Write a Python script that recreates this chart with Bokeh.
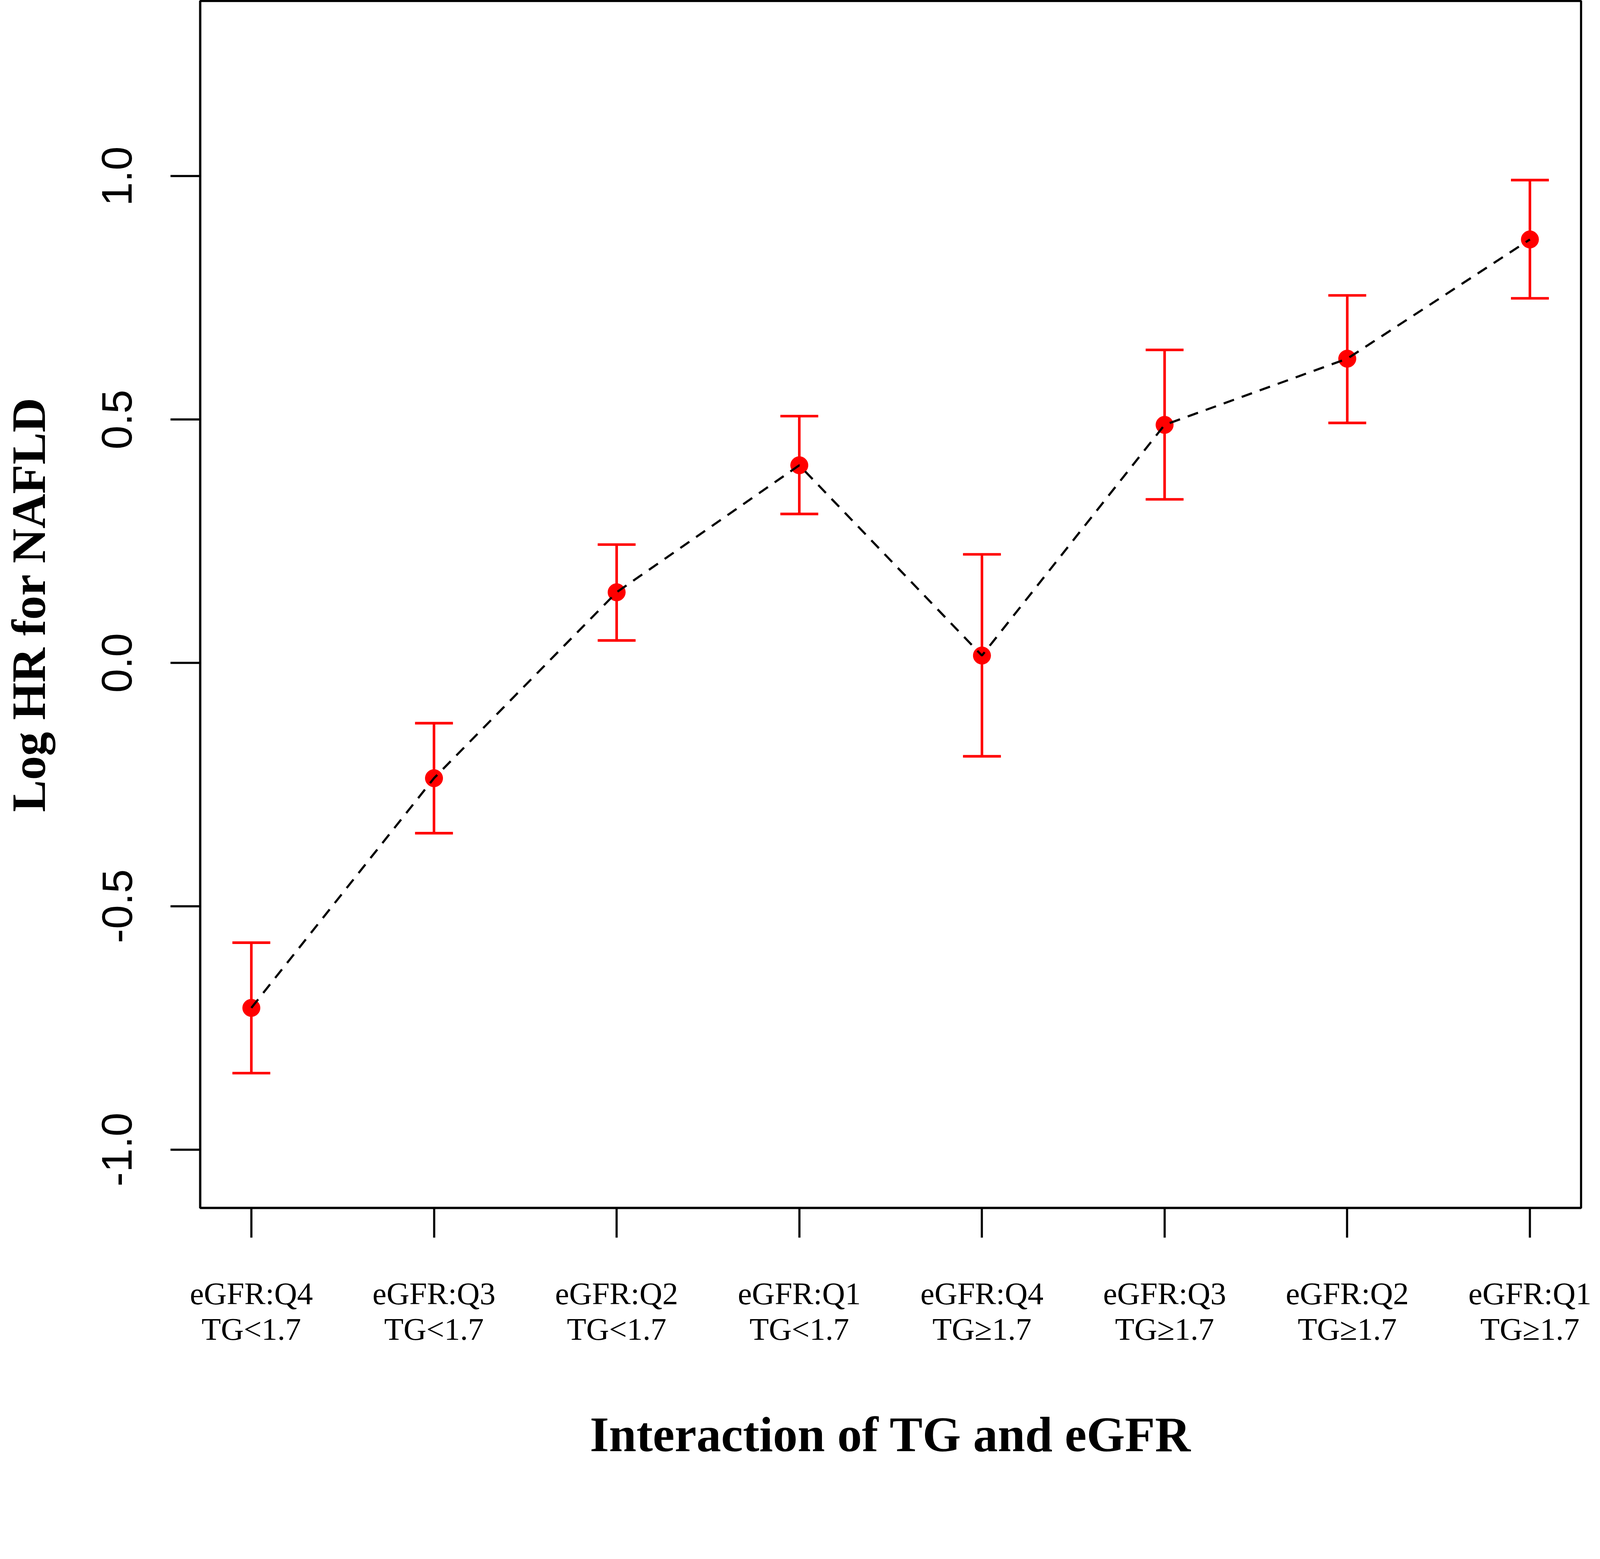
from bokeh.plotting import figure
from bokeh.models import FixedTicker, Whisker, TeeHead, ColumnDataSource, Range1d
from bokeh.embed import file_html
from bokeh.resources import INLINE

# ---- data ----
groups = [1, 2, 3, 4, 5, 6, 7, 8]
group_labels = ["eGFR:Q4\nTG<1.7", "eGFR:Q3\nTG<1.7", "eGFR:Q2\nTG<1.7", "eGFR:Q1\nTG<1.7",
                "eGFR:Q4\nTG\u22651.7", "eGFR:Q3\nTG\u22651.7", "eGFR:Q2\nTG\u22651.7", "eGFR:Q1\nTG\u22651.7"]
log_hr = [-0.709, -0.237, 0.145, 0.406, 0.015, 0.489, 0.625, 0.870]
ci_upper = [-0.575, -0.124, 0.243, 0.507, 0.223, 0.643, 0.755, 0.992]
ci_lower = [-0.843, -0.350, 0.046, 0.306, -0.192, 0.336, 0.493, 0.749]
y_ticks = [-1.0, -0.5, 0.0, 0.5, 1.0]
y_tick_labels = ["-1.0", "-0.5", "0.0", "0.5", "1.0"]

src = ColumnDataSource(dict(x=groups, y=log_hr, up=ci_upper, lo=ci_lower))

p = figure(width=4078, height=3760, output_backend="svg", toolbar_location=None,
           x_range=Range1d(0.72, 8.28), y_range=Range1d(-1.12, 1.36),
           min_border_left=512, min_border_right=31, min_border_top=2, min_border_bottom=669)
p.background_fill_color = "white"
p.border_fill_color = "white"
p.xgrid.visible = False
p.ygrid.visible = False
p.outline_line_color = "black"
p.outline_line_width = 5.5

# error bars
wk = Whisker(source=src, base="x", upper="up", lower="lo", dimension="height",
             line_color="#FF0000", line_width=6.6,
             upper_head=TeeHead(size=97, line_color="#FF0000", line_width=6.6),
             lower_head=TeeHead(size=97, line_color="#FF0000", line_width=6.6))
p.add_layout(wk)

# points
p.scatter("x", "y", source=src, size=45, color="#FF0000", line_color="#FF0000")

# dashed connecting line (drawn on top)
p.line("x", "y", source=src, line_color="black", line_width=5.5, line_dash="28 21")

# x axis
xa = p.xaxis[0]
xa.ticker = FixedTicker(ticks=groups)
xa.major_label_overrides = {g: lab for g, lab in zip(groups, group_labels)}
xa.major_label_text_font = "Liberation Serif"
xa.major_label_text_font_size = "81px"
xa.major_label_text_color = "black"
xa.major_label_text_line_height = 1.02
xa.major_label_standoff = 98
xa.major_tick_out = 76
xa.major_tick_in = 0
xa.minor_tick_out = 0
xa.minor_tick_in = 0
xa.major_tick_line_width = 5.5
xa.major_tick_line_color = "black"
xa.axis_line_width = 5.5
xa.axis_line_color = "black"
xa.axis_label = "Interaction of TG and eGFR"
xa.axis_label_text_font = "Liberation Serif"
xa.axis_label_text_font_style = "bold"
xa.axis_label_text_font_size = "126px"
xa.axis_label_text_color = "black"
xa.axis_label_standoff = 152

# y axis
ya = p.yaxis[0]
ya.ticker = FixedTicker(ticks=y_ticks)
ya.major_label_overrides = {t: lab for t, lab in zip(y_ticks, y_tick_labels)}
ya.major_label_orientation = "parallel"
ya.major_label_text_font = "Liberation Sans"
ya.major_label_text_font_size = "110px"
ya.major_label_text_color = "black"
ya.major_label_standoff = 99
ya.major_tick_out = 76
ya.major_tick_in = 0
ya.minor_tick_out = 0
ya.minor_tick_in = 0
ya.major_tick_line_width = 5.5
ya.major_tick_line_color = "black"
ya.axis_line_width = 5.5
ya.axis_line_color = "black"
ya.axis_label = "Log HR for NAFLD"
ya.axis_label_text_font = "Liberation Serif"
ya.axis_label_text_font_style = "bold"
ya.axis_label_text_font_size = "123px"
ya.axis_label_text_color = "black"
ya.axis_label_standoff = 117

open("out.html", "w").write(file_html(p, INLINE))
